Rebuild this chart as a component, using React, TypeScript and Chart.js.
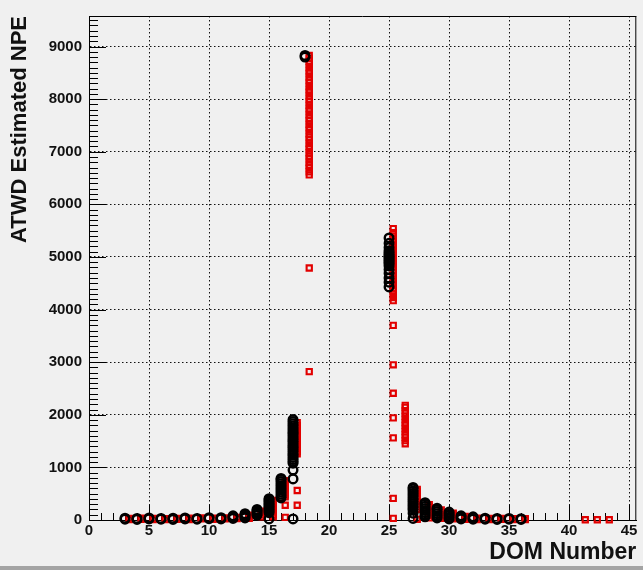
import React, { useEffect, useRef } from "react";
import { Chart, registerables } from "chart.js";

Chart.register(...registerables);

// ---- data ----
const domNumbers = [3, 4, 5, 6, 7, 8, 9, 10, 11, 12, 13, 14, 15, 16, 17, 18, 25, 26, 27, 28, 29, 30, 31, 32, 33, 34, 35, 36, 41, 42, 43];

const blackNpe: number[][] = [
  [15, 35], // 3
  [10, 30], // 4
  [20, 40], // 5
  [15, 30], // 6
  [10, 35], // 7
  [20, 40], // 8
  [15, 30], // 9
  [25, 45], // 10
  [20, 45], // 11
  [30, 55, 80], // 12
  [40, 70, 100, 120], // 13
  [90, 120, 150, 180, 200], // 14
  [20, 140, 170, 200, 230, 260, 290, 320, 350, 380, 405], // 15
  [420, 450, 490, 530, 570, 610, 650, 690, 730, 770, 790], // 16
  [20, 780, 950, 1080, 1110, 1150, 1190, 1230, 1260, 1300, 1340, 1380, 1410, 1450, 1490, 1520, 1560, 1600, 1640, 1670, 1710, 1750, 1790, 1830, 1870, 1910], // 17
  [8800, 8830], // 18
  [4430, 4520, 4600, 4690, 4760, 4830, 4870, 4900, 4930, 4960, 4990, 5020, 5050, 5080, 5120, 5180, 5260, 5360], // 25
  [], // 26
  [30, 130, 190, 230, 270, 310, 350, 390, 430, 470, 510, 550, 590, 620], // 27
  [60, 100, 140, 180, 220, 260, 300, 330], // 28
  [40, 80, 120, 160, 200, 225], // 29
  [20, 50, 90, 120, 150], // 30
  [20, 50, 80], // 31
  [15, 40, 60], // 32
  [15, 35], // 33
  [10, 30], // 34
  [15, 30], // 35
  [10, 25], // 36
  [], // 41
  [], // 42
  [], // 43
];

const redNpe: number[][] = [
  [10, 30], // 3
  [15, 35], // 4
  [10, 30], // 5
  [10, 25], // 6
  [15, 30], // 7
  [10, 35], // 8
  [20, 40], // 9
  [15, 35], // 10
  [20, 40], // 11
  [25, 50], // 12
  [30, 60, 90], // 13
  [60, 100, 140, 170], // 14
  [60, 100, 140, 180, 220, 260, 300, 340, 370], // 15
  [50, 280, 440, 480, 520, 560, 600, 640, 680, 720, 750], // 16
  [280, 560, 1260, 1300, 1350, 1400, 1440, 1490, 1530, 1580, 1620, 1670, 1710, 1760, 1800, 1850], // 17
  [2820, 4790, 6560, 6620, 6690, 6740, 6800, 6870, 6920, 6980, 7050, 7100, 7160, 7230, 7280, 7340, 7410, 7460, 7520, 7590, 7640, 7700, 7770, 7820, 7880, 7950, 8000, 8060, 8130, 8180, 8240, 8310, 8360, 8420, 8490, 8540, 8600, 8670, 8720, 8780, 8830], // 18
  [30, 410, 1560, 1940, 2410, 2950, 3700, 4170, 4230, 4290, 4350, 4400, 4460, 4520, 4580, 4640, 4700, 4750, 4810, 4870, 4930, 4990, 5040, 5100, 5160, 5220, 5280, 5340, 5400, 5460, 5540], // 25
  [1450, 1510, 1570, 1620, 1680, 1740, 1800, 1850, 1910, 1970, 2030, 2080, 2140, 2180], // 26
  [15, 200, 250, 300, 350, 400, 450, 500, 550, 580], // 27
  [40, 90, 130, 170, 210, 250, 290], // 28
  [30, 70, 110, 150, 190], // 29
  [20, 60, 100, 130], // 30
  [15, 40, 70], // 31
  [10, 35], // 32
  [10, 30], // 33
  [15, 30], // 34
  [10, 25], // 35
  [10, 25], // 36
  [5], // 41
  [5], // 42
  [5], // 43
];

const xTickValues = [0, 5, 10, 15, 20, 25, 30, 35, 40, 45];
const yTickValues = [0, 1000, 2000, 3000, 4000, 5000, 6000, 7000, 8000, 9000];

const RED_X_OFFSET = 0.35;
const X_MAX = 45.6;
const Y_MAX = 9580;
const X_MAJOR = 5;
const X_MINOR = 1;
const Y_MAJOR = 1000;
const Y_MINOR = 100;
const X_TITLE = "DOM Number";
const Y_TITLE = "ATWD Estimated NPE";

const FONT = "'Liberation Sans', Arial, Helvetica, sans-serif";
const BG = "#f0f0f0";
const RED = "#e20000";

const rootStyle = {
  id: "rootStyle",
  beforeDraw(chart: any) {
    const { ctx, width, height } = chart;
    ctx.save();
    ctx.fillStyle = BG;
    ctx.fillRect(0, 0, width, height);
    ctx.fillStyle = "#a4a4a4";
    ctx.fillRect(0, height - 4, width, 4);
    ctx.restore();
  },
  beforeDatasetsDraw(chart: any) {
    const { ctx, chartArea, scales } = chart;
    const { left, right, top, bottom } = chartArea;
    const xs = scales.x;
    const ys = scales.y;
    ctx.save();
    ctx.strokeStyle = "#000";
    ctx.lineWidth = 1;
    ctx.beginPath();
    for (let v = 0; v <= Y_MAX + 1e-6; v += Y_MINOR) {
      const py = Math.round(ys.getPixelForValue(v)) + 0.5;
      const len = v % Y_MAJOR === 0 ? 17 : 9;
      ctx.moveTo(left, py);
      ctx.lineTo(left + len, py);
    }
    for (let v = 0; v <= X_MAX + 1e-6; v += X_MINOR) {
      const px = Math.round(xs.getPixelForValue(v)) + 0.5;
      const len = v % X_MAJOR === 0 ? 15 : 7;
      ctx.moveTo(px, bottom);
      ctx.lineTo(px, bottom - len);
    }
    ctx.stroke();
    // frame
    ctx.beginPath();
    ctx.moveTo(left, top + 0.5);
    ctx.lineTo(right, top + 0.5);
    ctx.moveTo(right - 0.5, top);
    ctx.lineTo(right - 0.5, bottom);
    ctx.stroke();
    ctx.restore();
  },
};

export default function App() {
  const ref = useRef<HTMLCanvasElement | null>(null);

  useEffect(() => {
    if (!ref.current) return;
    const blackPts = domNumbers.flatMap((d, i) => blackNpe[i].map((v) => ({ x: d, y: v })));
    const redPts = domNumbers.flatMap((d, i) => redNpe[i].map((v) => ({ x: d + RED_X_OFFSET, y: v })));

    const tickFont = { family: FONT, size: 15, weight: "bold" as const };

    const chart = new Chart(ref.current, {
      type: "scatter",
      data: {
        datasets: [
          {
            label: "black",
            data: blackPts,
            pointStyle: "circle",
            pointRadius: 4.3,
            pointBorderWidth: 2.4,
            borderColor: "#000",
            backgroundColor: "rgba(0,0,0,0)",
            showLine: false,
            clip: false as any,
          },
          {
            label: "red",
            data: redPts,
            pointStyle: "rect",
            pointRadius: 3.7,
            pointBorderWidth: 2.1,
            borderColor: RED,
            backgroundColor: "rgba(0,0,0,0)",
            showLine: false,
            clip: false as any,
          },
        ],
      },
      options: {
        responsive: false,
        animation: false,
        devicePixelRatio: 1,
        layout: { padding: { left: 0, right: 5, top: 10, bottom: 0 } },
        plugins: { legend: { display: false }, tooltip: { enabled: false } },
        scales: {
          x: {
            type: "linear",
            min: 0,
            max: X_MAX,
            afterFit: (s: any) => {
              s.height = 50;
            },
            afterBuildTicks: (s: any) => {
              s.ticks = xTickValues.map((v) => ({ value: v }));
            },
            ticks: {
              autoSkip: false,
              maxRotation: 0,
              padding: 2,
              color: "#111",
              font: tickFont,
              callback: (v: any) => String(v),
            },
            grid: { color: "#111", lineWidth: 1, drawTicks: false },
            border: { display: true, color: "#000", width: 1, dash: [1.5, 2.5] },
            title: {
              display: true,
              text: X_TITLE,
              align: "end",
              color: "#111",
              font: { family: FONT, size: 23, weight: "bold" },
              padding: { top: 0, bottom: 4 },
            },
          },
          y: {
            type: "linear",
            min: 0,
            max: Y_MAX,
            afterFit: (s: any) => {
              s.width = 89;
            },
            afterBuildTicks: (s: any) => {
              s.ticks = yTickValues.map((v) => ({ value: v }));
            },
            ticks: {
              autoSkip: false,
              padding: 7,
              color: "#111",
              font: tickFont,
              callback: (v: any) => String(v),
            },
            grid: { color: "#111", lineWidth: 1, drawTicks: false },
            border: { display: true, color: "#000", width: 1, dash: [1.5, 2.5] },
            title: {
              display: true,
              text: Y_TITLE,
              align: "end",
              color: "#111",
              font: { family: FONT, size: 22, weight: "bold" },
              padding: { top: 7, bottom: 0 },
            },
          },
        },
      },
      plugins: [rootStyle],
    });
    return () => chart.destroy();
  }, []);

  return (
    <div style={{ position: "fixed", left: 0, top: 0, width: 643, height: 570 }}>
      <canvas ref={ref} width={643} height={570} style={{ display: "block" }} />
    </div>
  );
}
